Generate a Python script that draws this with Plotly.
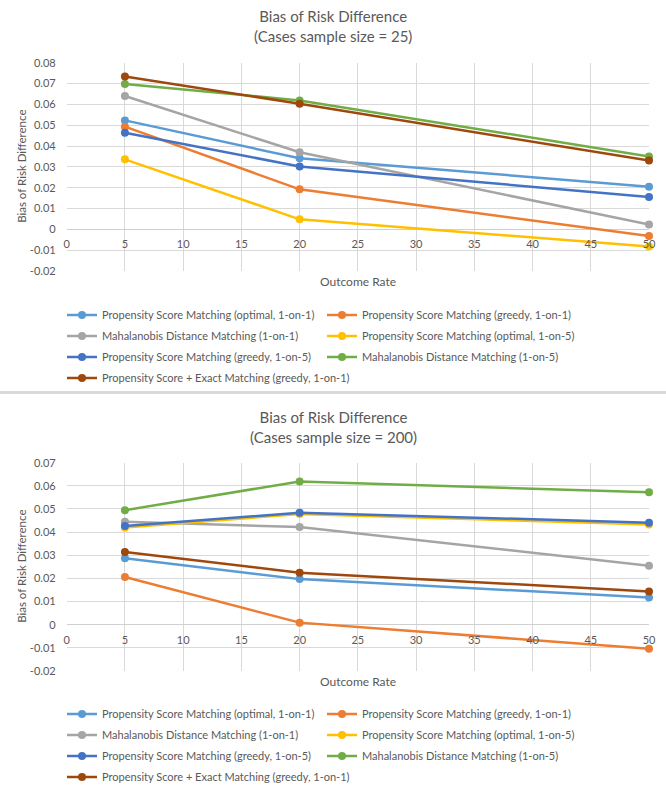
import plotly.graph_objects as go

W, H = 666, 790

outcome_rate = [5, 20, 50]
x_tick_vals = [0, 5, 10, 15, 20, 25, 30, 35, 40, 45, 50]
x_tick_text = ["0", "5", "10", "15", "20", "25", "30", "35", "40", "45", "50"]

series_names = [
    "Propensity Score Matching (optimal, 1-on-1)",
    "Propensity Score Matching (greedy, 1-on-1)",
    "Mahalanobis Distance Matching (1-on-1)",
    "Propensity Score Matching (optimal, 1-on-5)",
    "Propensity Score Matching (greedy, 1-on-5)",
    "Mahalanobis Distance Matching (1-on-5)",
    "Propensity Score + Exact Matching (greedy, 1-on-1)",
]
series_colors = ["#5B9BD5", "#ED7D31", "#A5A5A5", "#FFC000", "#4472C4", "#70AD47", "#9E480E"]

# Cases sample size = 25
n25_psm_opt_1to1 = [0.0523, 0.0341, 0.0205]
n25_psm_greedy_1to1 = [0.0493, 0.0192, -0.0032]
n25_maha_1to1 = [0.0640, 0.0370, 0.0023]
n25_psm_opt_1to5 = [0.0336, 0.0048, -0.0082]
n25_psm_greedy_1to5 = [0.0464, 0.0302, 0.0155]
n25_maha_1to5 = [0.0698, 0.0619, 0.0350]
n25_psm_exact = [0.0734, 0.0603, 0.0330]

# Cases sample size = 200
n200_psm_opt_1to1 = [0.0287, 0.0197, 0.0118]
n200_psm_greedy_1to1 = [0.0206, 0.0009, -0.0104]
n200_maha_1to1 = [0.0445, 0.0422, 0.0255]
n200_psm_opt_1to5 = [0.0420, 0.0478, 0.0433]
n200_psm_greedy_1to5 = [0.0426, 0.0484, 0.0441]
n200_maha_1to5 = [0.0495, 0.0619, 0.0572]
n200_psm_exact = [0.0314, 0.0225, 0.0144]

top_y_vals = [-0.02, -0.01, 0, 0.01, 0.02, 0.03, 0.04, 0.05, 0.06, 0.07, 0.08]
top_y_text = ["-0.02", "-0.01", "0", "0.01", "0.02", "0.03", "0.04", "0.05", "0.06", "0.07", "0.08"]
bot_y_vals = [-0.02, -0.01, 0, 0.01, 0.02, 0.03, 0.04, 0.05, 0.06, 0.07]
bot_y_text = ["-0.02", "-0.01", "0", "0.01", "0.02", "0.03", "0.04", "0.05", "0.06", "0.07"]

chart_title_top = "Bias of Risk Difference<br>(Cases sample size = 25)"
chart_title_bot = "Bias of Risk Difference<br>(Cases sample size = 200)"
y_title = "Bias of Risk Difference"
x_title = "Outcome Rate"

top_series = [n25_psm_opt_1to1, n25_psm_greedy_1to1, n25_maha_1to1, n25_psm_opt_1to5,
              n25_psm_greedy_1to5, n25_maha_1to5, n25_psm_exact]
bot_series = [n200_psm_opt_1to1, n200_psm_greedy_1to1, n200_maha_1to1, n200_psm_opt_1to5,
              n200_psm_greedy_1to5, n200_maha_1to5, n200_psm_exact]

FONT = "Lato, Carlito, 'Open Sans', sans-serif"
TXT = "#595959"
GRID = "#D9D9D9"


def px_x(p):
    return p / W


def px_y(p):
    return 1 - p / H


# layout geometry (px)
top_area = (66.7, 649, 62.7, 271)
bot_area = (66.7, 649, 462.7, 671)
top_zero = 229
bot_zero = 624.7
legend_col_x = [62, 322]
top_legend_rows = [315, 336, 357, 378]
bot_legend_rows = [714, 735, 756, 777]

fig = go.Figure()
layout_legends = {}
leg_font = dict(family=FONT, size=11, color=TXT)


def add_chart(series, xa, ya, rows, legend_offset):
    for i, (name, color, vals) in enumerate(zip(series_names, series_colors, series)):
        lid = "legend" if legend_offset + i == 0 else "legend%d" % (legend_offset + i + 1)
        fig.add_trace(go.Scatter(x=outcome_rate, y=vals, name=name, mode="lines+markers",
                                 line=dict(color=color, width=2.5), marker=dict(color=color, size=8),
                                 cliponaxis=False, xaxis=xa, yaxis=ya, legend=lid))
        r, c = divmod(i, 2)
        layout_legends[lid] = dict(x=px_x(legend_col_x[c]), xanchor="left",
                                   y=px_y(rows[r]), yanchor="middle",
                                   font=leg_font, bgcolor="rgba(0,0,0,0)", borderwidth=0)


add_chart(top_series, "x", "y", top_legend_rows, 0)
add_chart(bot_series, "x2", "y2", bot_legend_rows, 7)

xdom = [px_x(top_area[0]), px_x(top_area[1])]
axis_font = dict(family=FONT, size=11, color=TXT)

fig.update_layout(
    width=W, height=H,
    margin=dict(l=0, r=0, t=0, b=0, autoexpand=False),
    paper_bgcolor="white", plot_bgcolor="white",
    font=dict(family=FONT, color=TXT),
    showlegend=True,
    xaxis=dict(domain=xdom, range=[0, 50], tickvals=x_tick_vals, ticktext=x_tick_text,
               showgrid=True, gridcolor=GRID, gridwidth=1, zeroline=False, showline=False,
               anchor="free", position=px_y(top_zero), ticks="", ticklabelstandoff=7,
               tickfont=axis_font),
    yaxis=dict(domain=[px_y(top_area[3]), px_y(top_area[2])], range=[-0.02, 0.08],
               tickvals=top_y_vals, ticktext=top_y_text, showgrid=True, gridcolor=GRID,
               zeroline=True, zerolinecolor="#CFCFCF", zerolinewidth=1, showline=False,
               anchor="x", ticks="", ticklabelstandoff=10, tickfont=axis_font),
    xaxis2=dict(domain=xdom, range=[0, 50], tickvals=x_tick_vals, ticktext=x_tick_text,
                showgrid=True, gridcolor=GRID, gridwidth=1, zeroline=False, showline=False,
                anchor="free", position=px_y(bot_zero), ticks="", ticklabelstandoff=7,
                tickfont=axis_font),
    yaxis2=dict(domain=[px_y(bot_area[3]), px_y(bot_area[2])], range=[-0.02, 0.07],
                tickvals=bot_y_vals, ticktext=bot_y_text, showgrid=True, gridcolor=GRID,
                zeroline=True, zerolinecolor="#CFCFCF", zerolinewidth=1, showline=False,
                anchor="x2", ticks="", ticklabelstandoff=10, tickfont=axis_font),
)
fig.update_layout(**layout_legends)

ann = []
ann.append(dict(text=chart_title_top, x=0.5, y=px_y(26.5), xref="paper", yref="paper",
                xanchor="center", yanchor="middle",
                showarrow=False, font=dict(family=FONT, size=15, color=TXT), align="center"))
ann.append(dict(text=chart_title_bot, x=0.5, y=px_y(427), xref="paper", yref="paper",
                xanchor="center", yanchor="middle",
                showarrow=False, font=dict(family=FONT, size=15, color=TXT), align="center"))
for (l, r, t, b) in [top_area, bot_area]:
    ann.append(dict(text=y_title, x=px_x(22), y=px_y((t + b) / 2), xref="paper", yref="paper",
                    xanchor="center", yanchor="middle",
                    showarrow=False, textangle=-90, font=dict(family=FONT, size=11.5, color=TXT)))
    ann.append(dict(text=x_title, x=px_x((l + r) / 2), y=px_y(b + 10), xref="paper", yref="paper",
                    xanchor="center", yanchor="middle",
                    showarrow=False, font=dict(family=FONT, size=12, color=TXT)))
fig.update_layout(annotations=ann)

fig.add_shape(type="line", xref="paper", yref="paper", x0=0, x1=1, y0=px_y(392.5), y1=px_y(392.5),
              line=dict(color="#D9D9D9", width=3))

fig.write_html("out.html",
               config={"displayModeBar": False},
               post_script="document.body.style.margin='0';document.body.style.overflow='hidden';")
